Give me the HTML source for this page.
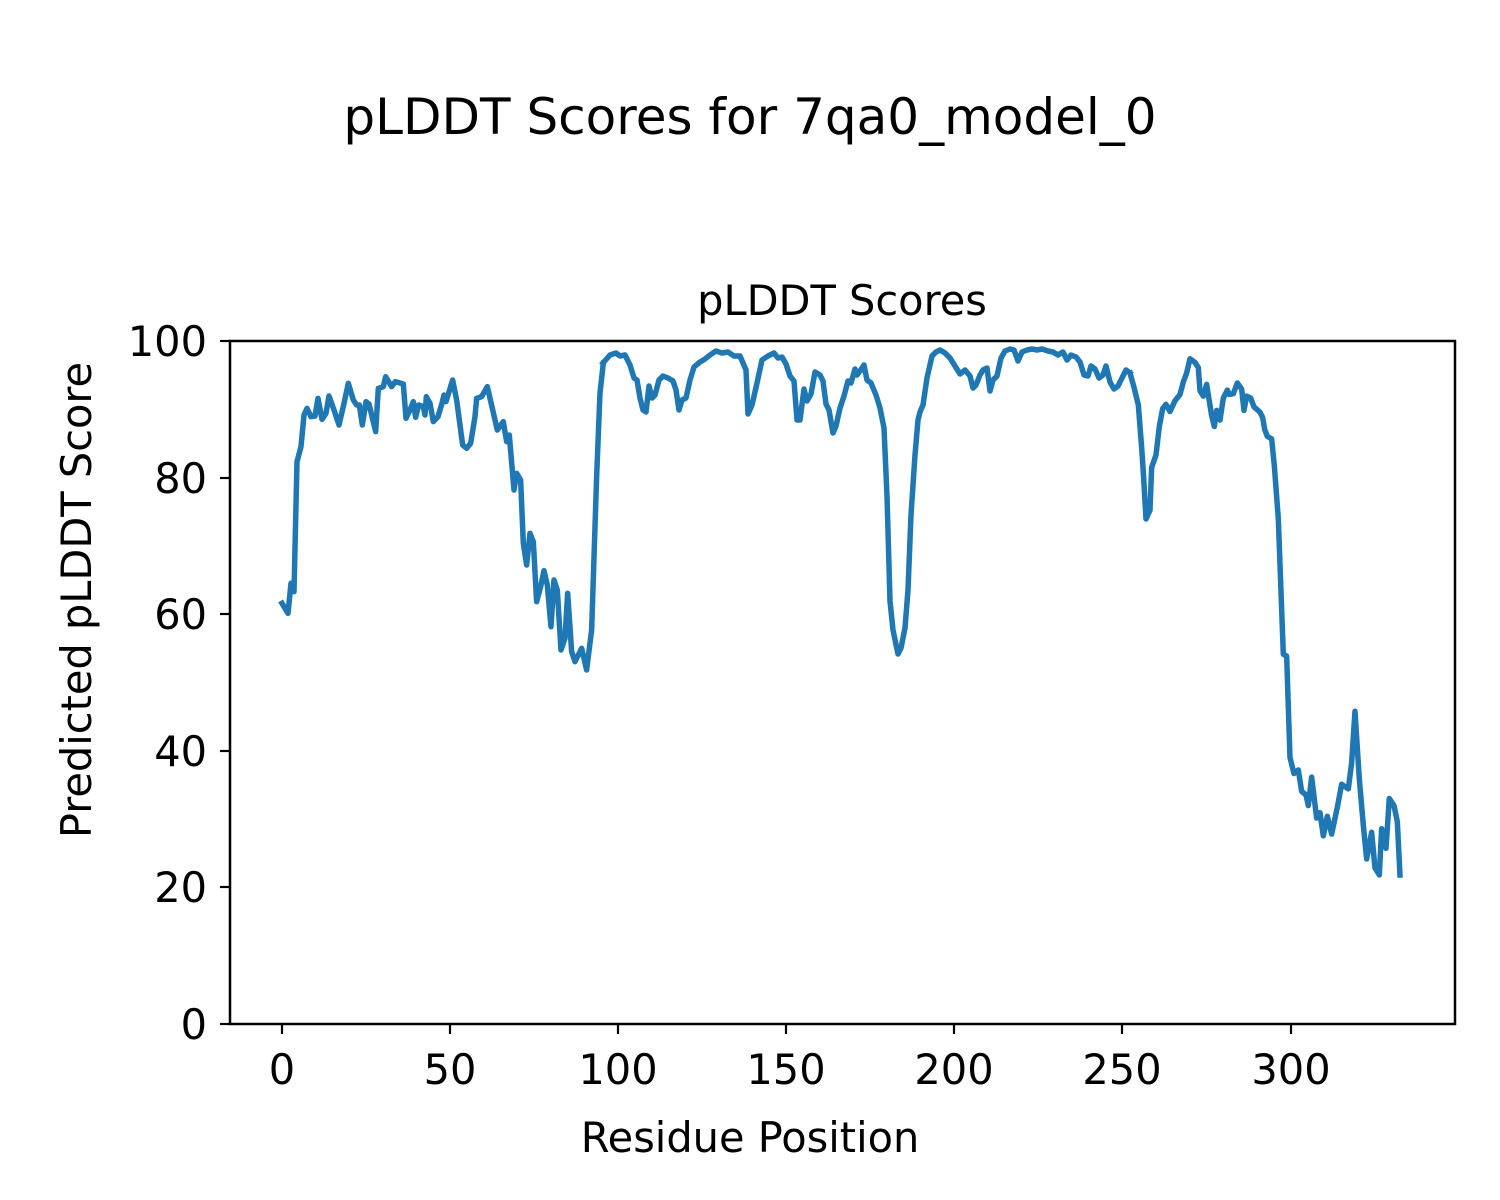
<!DOCTYPE html>
<html><head><meta charset="utf-8"><style>body{margin:0;background:#fff}svg{display:block}text{font-family:"DejaVu Sans","Liberation Sans",sans-serif;fill:#000}</style></head>
<body>
<svg width="1500" height="1200" viewBox="0 0 1500 1200" xmlns="http://www.w3.org/2000/svg">
<rect width="1500" height="1200" fill="#fff"/>
<text x="750" y="134" font-size="50" text-anchor="middle">pLDDT Scores for 7qa0_model_0</text>
<text x="842" y="315" font-size="41.5" text-anchor="middle">pLDDT Scores</text>
<g fill="none" stroke="#1f77b4" stroke-width="5.5" stroke-linejoin="round" stroke-linecap="square">
<g transform="translate(270,360) scale(0.3333)">
<polyline vector-effect="non-scaling-stroke" points="36,730 54,760 63,670 72,695 81,305 93,260 102,165 111,145 123,170 135,168 144,115 156,178 168,160 177,108 192,150 207,195 222,130 235,70 250,120 260,135 268,135 277,195 288,125 297,132 317,215 325,85 340,80 347,50 365,80 376,65 400,72 408,175 420,150 430,125 437,172 446,135 460,140 465,165 469,110 480,130 490,185 504,170 516,130 522,105 528,125 548,60 560,120 578,255 590,265 602,250 615,170 620,115 635,110 652,80 682,210 700,185 710,245 718,225 732,390 740,340 752,360 760,550 770,615 780,520 790,545 800,725 812,680 822,632 832,675 843,800 852,660 862,690 873,870 885,835 893,700 900,800 905,875 915,905 935,865 950,930 965,810 980,350 990,100 1000,10"/>
</g>
<polyline points="603,363 610,355 616,353 620,356 625,355 630,365 634,378 637,380 640,398 643,410 646,412 649,386 652,398 655,395 659,380 663,376 668,378 673,381 676,390 679,410 682,400 686,398 690,380 694,367 700,362 705,359 710,355 716,351 722,353 728,352 734,356 740,356 746,370 748,414 752,405 757,383 762,360 768,356 774,353 778,358 782,357 786,364 790,376 794,381 797,420 800,420 804,389 807,401 811,394 815,372 820,375 823,381 826,404 829,410 833,433 836,426 840,408 844,396 848,381 851,383 855,369 857,375 860,371 864,365 867,380 871,383 876,395 880,408 884,428 887,496 890,601 893,630 898,654 901,648 905,628 908,590 911,515 915,455 918,420 920,412 923,405 927,378 932,356 936,352 940,350 945,353 950,358 955,366 960,374 965,370 970,376 973,388 976,385 980,375 983,370 987,368 990,391 993,380 997,376 1001,358 1005,351 1010,349 1014,350 1018,361 1022,352 1027,350 1032,349 1037,350 1042,349 1048,351 1053,352 1058,355 1063,352 1067,360 1071,355 1076,357 1080,362 1084,375 1088,376 1091,366 1095,369 1099,378 1103,375 1106,366 1110,382 1114,389 1118,386 1122,378 1126,370 1130,373"/>
<g transform="translate(1130,341) scale(0.3333,0.356)">
<polyline vector-effect="non-scaling-stroke" points="0,90 12,130 25,180 35,300 40,370 48,500 60,475 65,355 78,320 88,240 98,190 108,178 120,198 135,168 150,150 160,115 170,90 180,50 195,60 205,75 210,140 220,155 230,122 245,210 253,240 260,195 270,222 280,160 292,138 298,150 310,148 322,118 335,135 342,195 350,155 362,160 372,185 390,200 398,215 404,248 412,268 425,275 433,350 445,500 460,880 470,885 480,1170 492,1215 505,1205 515,1265 528,1275 535,1305 545,1225 560,1340 570,1325 580,1390 592,1335 605,1385 622,1310 635,1245 655,1258 665,1185 675,1040 688,1230 700,1360 710,1455 725,1380 735,1480 748,1500 755,1370 768,1425 778,1285 792,1305 802,1350 810,1500"/>
</g>
</g>
<rect x="230" y="341" width="1225" height="683" fill="none" stroke="#000" stroke-width="2.5"/>
<g stroke="#000" stroke-width="2.2">
<line x1="282" y1="1024" x2="282" y2="1034"/><line x1="450" y1="1024" x2="450" y2="1034"/><line x1="618" y1="1024" x2="618" y2="1034"/><line x1="786" y1="1024" x2="786" y2="1034"/><line x1="954" y1="1024" x2="954" y2="1034"/><line x1="1122" y1="1024" x2="1122" y2="1034"/><line x1="1291" y1="1024" x2="1291" y2="1034"/>
<line x1="220" y1="1024" x2="230" y2="1024"/><line x1="220" y1="887" x2="230" y2="887"/><line x1="220" y1="751" x2="230" y2="751"/><line x1="220" y1="614" x2="230" y2="614"/><line x1="220" y1="478" x2="230" y2="478"/><line x1="220" y1="341" x2="230" y2="341"/>
</g>
<g font-size="41.5" text-anchor="middle">
<text x="282" y="1084">0</text><text x="450" y="1084">50</text><text x="618" y="1084">100</text><text x="786" y="1084">150</text><text x="954" y="1084">200</text><text x="1122" y="1084">250</text><text x="1291" y="1084">300</text>
</g>
<g font-size="41.5" text-anchor="end">
<text x="207" y="1039">0</text><text x="207" y="902">20</text><text x="207" y="766">40</text><text x="207" y="629">60</text><text x="207" y="493">80</text><text x="207" y="356">100</text>
</g>
<text x="750" y="1152" font-size="41.5" text-anchor="middle">Residue Position</text>
<text transform="translate(91,600) rotate(-90)" font-size="41.5" text-anchor="middle">Predicted pLDDT Score</text>
</svg>
</body></html>
